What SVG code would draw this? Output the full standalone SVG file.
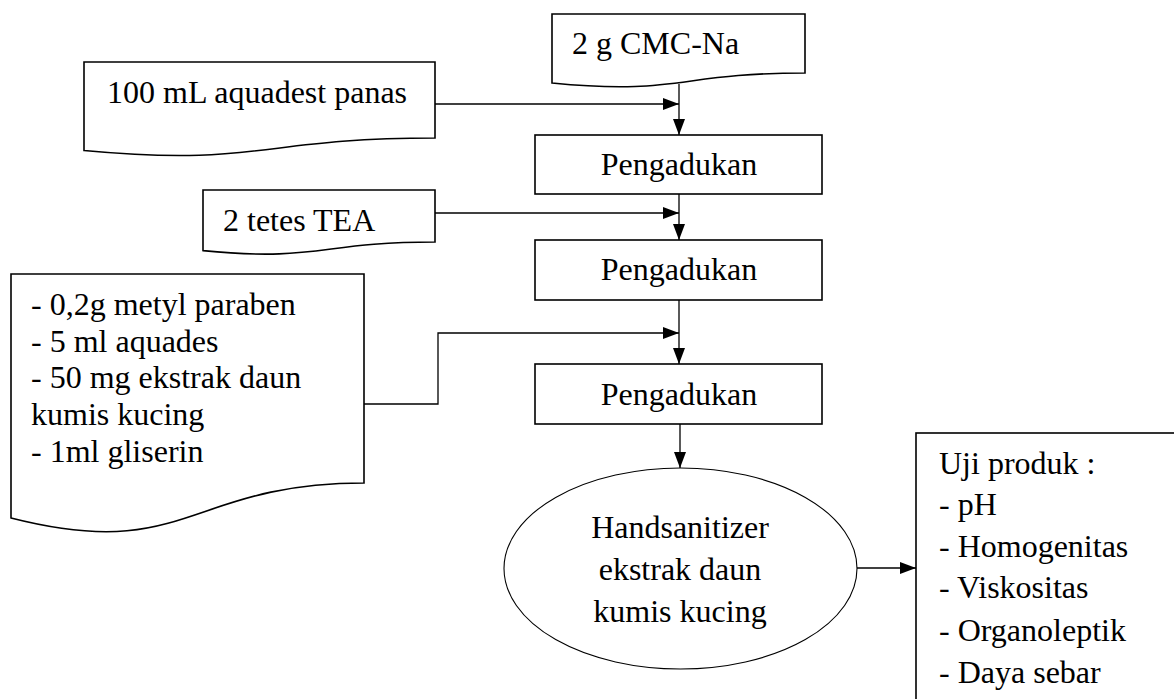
<svg xmlns="http://www.w3.org/2000/svg" width="1174" height="699" viewBox="0 0 1174 699">
  <style>
    .shape { fill: #ffffff; stroke: #000000; stroke-width: 1.6; }
    .oval { fill: #ffffff; stroke: #000000; stroke-width: 1.1; }
    .label { font-family: "Liberation Serif", "Times New Roman", serif; font-size: 32px; fill: #000000; }
    .mid { text-anchor: middle; }
    .link { fill: none; stroke: #000000; stroke-width: 1.3; }
  </style>
  <defs>
    <marker id="head" viewBox="0 0 16 12" refX="16" refY="6" markerWidth="16" markerHeight="12" markerUnits="userSpaceOnUse" orient="auto">
      <path d="M0,0 L16,6 L0,12 Z" fill="#000000"/>
    </marker>
  </defs>

  <rect width="1174" height="699" fill="#ffffff"/>

  <!-- input documents -->
  <g id="cmc-na">
    <path class="shape" d="M552,14 H805 V73 C678.5,73 678.5,95.5 552,83 Z"/>
    <text class="label" x="572" y="54">2 g CMC-Na</text>
  </g>

  <g id="aquadest">
    <path class="shape" d="M84,62 H435 V138 C259.5,138 259.5,167 84,150.5 Z"/>
    <text class="label" x="107" y="103">100 mL aquadest panas</text>
  </g>

  <g id="tea">
    <path class="shape" d="M203,190 H435 V242 C319,242 319,262 203,250.6 Z"/>
    <text class="label" x="223" y="231">2 tetes TEA</text>
  </g>

  <g id="bahan">
    <path class="shape" d="M11,274 H364 V483 C187.5,483 187.5,563 11,518 Z"/>
    <text class="label" x="31" y="315">- 0,2g metyl paraben</text>
    <text class="label" x="31" y="352">- 5 ml aquades</text>
    <text class="label" x="31" y="388">- 50 mg ekstrak daun</text>
    <text class="label" x="31" y="425">kumis kucing</text>
    <text class="label" x="31" y="462">- 1ml gliserin</text>
  </g>

  <!-- process steps -->
  <g id="pengadukan-1">
    <rect class="shape" x="535" y="135" width="287" height="59"/>
    <text class="label mid" x="679" y="175">Pengadukan</text>
  </g>

  <g id="pengadukan-2">
    <rect class="shape" x="535" y="240" width="287" height="60"/>
    <text class="label mid" x="679" y="280">Pengadukan</text>
  </g>

  <g id="pengadukan-3">
    <rect class="shape" x="535" y="364" width="287" height="60"/>
    <text class="label mid" x="679" y="405">Pengadukan</text>
  </g>

  <!-- product -->
  <g id="produk">
    <ellipse class="oval" cx="680.5" cy="568.5" rx="176.5" ry="100.5"/>
    <text class="label mid" x="680" y="538">Handsanitizer</text>
    <text class="label mid" x="680" y="580">ekstrak daun</text>
    <text class="label mid" x="680" y="622">kumis kucing</text>
  </g>

  <g id="uji-produk">
    <rect class="shape" x="916" y="433" width="270" height="280"/>
    <text class="label" x="939" y="474">Uji produk :</text>
    <text class="label" x="939" y="515">- pH</text>
    <text class="label" x="939" y="557">- Homogenitas</text>
    <text class="label" x="939" y="598">- Viskositas</text>
    <text class="label" x="939" y="641">- Organoleptik</text>
    <text class="label" x="939" y="683">- Daya sebar</text>
  </g>

  <!-- connectors -->
  <g id="connectors">
    <path class="link" d="M435,104 H679" marker-end="url(#head)"/>
    <path class="link" d="M679,84 V135" marker-end="url(#head)"/>
    <path class="link" d="M679,194 V240" marker-end="url(#head)"/>
    <path class="link" d="M435,213 H679" marker-end="url(#head)"/>
    <path class="link" d="M679,300 V364" marker-end="url(#head)"/>
    <path class="link" d="M364,404 H438 V333 H679" marker-end="url(#head)"/>
    <path class="link" d="M680,424 V468" marker-end="url(#head)"/>
    <path class="link" d="M857,568 H916" marker-end="url(#head)"/>
  </g>
</svg>
